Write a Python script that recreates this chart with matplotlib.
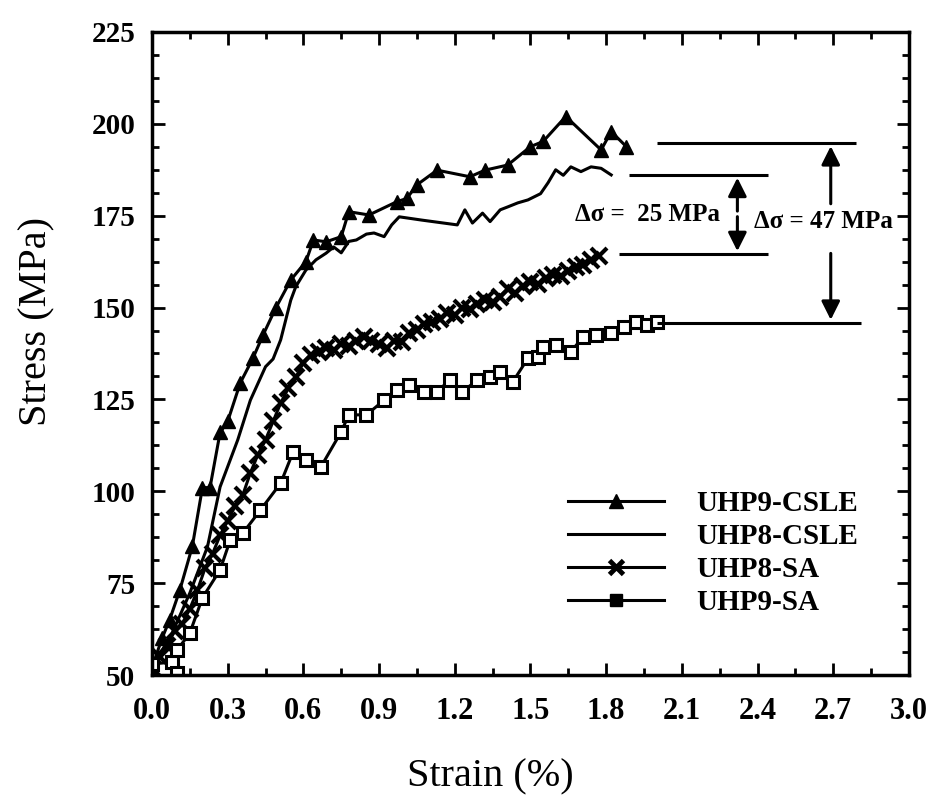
import matplotlib
matplotlib.use('Agg')
import matplotlib.pyplot as plt
from matplotlib.lines import Line2D
from matplotlib.ticker import MultipleLocator

plt.rcParams['font.family'] = ['Liberation Serif', 'DejaVu Serif']

# UHP9-CSLE (filled triangles)
uhp9_csle_x = [0.0, 0.04, 0.07, 0.11, 0.16, 0.20, 0.23, 0.27, 0.30, 0.35, 0.40, 0.44,
               0.49, 0.55, 0.61, 0.64, 0.69, 0.75, 0.78, 0.86, 0.97, 1.01, 1.05, 1.13,
               1.26, 1.32, 1.41, 1.50, 1.55, 1.64, 1.78, 1.82, 1.88]
uhp9_csle_y = [52, 60, 65, 73, 85, 101, 101, 116, 119, 129.5, 136.2, 142.5,
               149.8, 157.5, 162.5, 168.4, 167.9, 169.3, 176.1, 175.2, 178.8, 179.7, 183.4, 187.4,
               185.6, 187.4, 188.8, 193.8, 195.2, 202, 192.9, 197.9, 193.8]

# UHP8-CSLE (plain line)
uhp8_csle_x = [0.0, 0.08, 0.15, 0.22, 0.27, 0.34, 0.39, 0.45, 0.48, 0.51, 0.55, 0.57,
               0.61, 0.65, 0.69, 0.72, 0.75, 0.78, 0.81, 0.85, 0.88, 0.92, 0.95, 0.98,
               1.07, 1.21, 1.24, 1.27, 1.31, 1.34, 1.38, 1.41, 1.45, 1.49, 1.54, 1.57,
               1.60, 1.63, 1.66, 1.70, 1.74, 1.78, 1.82]
uhp8_csle_y = [52, 61.4, 72.3, 84.9, 101.2, 114, 124.8, 133.9, 136, 141.2, 152, 155.7,
               160.2, 163, 164.8, 166.5, 164.9, 168, 168.4, 170, 170.3, 169.3, 172.5, 174.7,
               173.8, 172.5, 176.6, 173, 175.7, 173.4, 176.6, 177.4, 178.5, 179.3, 181, 184,
               187.5, 186, 188.3, 187, 188.3, 187.9, 186.1]

# UHP8-SA (crosses)
uhp8_sa_x = [0.00, 0.03, 0.06, 0.09, 0.12, 0.15, 0.18, 0.21, 0.24, 0.27, 0.30, 0.33,
             0.36, 0.39, 0.42, 0.45, 0.48, 0.51, 0.54, 0.57, 0.60, 0.63, 0.66, 0.69,
             0.72, 0.75, 0.78, 0.81, 0.84, 0.87, 0.90, 0.93, 0.96, 0.99, 1.02, 1.05,
             1.08, 1.11, 1.14, 1.17, 1.20, 1.23, 1.26, 1.29, 1.32, 1.35, 1.38, 1.41,
             1.44, 1.47, 1.50, 1.53, 1.56, 1.59, 1.62, 1.65, 1.68, 1.71, 1.74, 1.77]
uhp8_sa_y = [52, 55, 58, 62, 64, 68, 73, 79, 83, 88, 92, 96,
             99, 105, 110, 114, 119, 124, 128, 131, 135, 137, 138, 139,
             138.5, 140, 139.5, 141, 142, 141, 140, 139, 141, 140.5, 143, 144,
             145.5, 146, 147, 148.5, 148, 150, 149.5, 151, 152, 151.5, 153, 155,
             154, 156, 157, 156.5, 158, 159, 158.5, 160, 161, 161.5, 163, 164]

# UHP9-SA (open squares)
uhp9_sa_x = [0.0, 0.08, 0.10, 0.10, 0.15, 0.20, 0.27, 0.31, 0.36, 0.43, 0.51, 0.56,
             0.61, 0.67, 0.75, 0.78, 0.85, 0.92, 0.97, 1.02, 1.08, 1.13, 1.18, 1.23,
             1.29, 1.34, 1.38, 1.43, 1.49, 1.53, 1.55, 1.60, 1.66, 1.71, 1.76, 1.82,
             1.87, 1.92, 1.96, 2.00]
uhp9_sa_y = [53, 53.5, 50.5, 56.8, 61.4, 71, 78.6, 86.7, 88.6, 94.9, 102.2, 110.8,
             108.5, 106.7, 116.2, 120.8, 120.8, 124.8, 127.6, 128.9, 127.1, 127.1, 130.3, 127.1,
             130.3, 131.2, 132.5, 129.8, 136.2, 136.6, 139.4, 139.8, 138, 142.1, 142.5, 143,
             144.8, 146.2, 145.3, 146.2]

# reference lines for the stress gaps
ref_levels = [194.7, 186.1, 164.6, 145.9]
ref_start = [2.0, 1.89, 1.85, 2.0]
ref_end = [2.79, 2.44, 2.44, 2.81]

labels = ['UHP9-CSLE', 'UHP8-CSLE', 'UHP8-SA', 'UHP9-SA']

fig = plt.figure(figsize=(9.34, 8.0), dpi=100)
ax = fig.add_axes([0.1627, 0.15625, 0.8105, 0.80375])

lw = 2.2
ax.plot(uhp9_csle_x, uhp9_csle_y, color='black', lw=lw, marker='^', ms=10)
ax.plot(uhp8_csle_x, uhp8_csle_y, color='black', lw=lw)
ax.plot(uhp8_sa_x, uhp8_sa_y, color='black', lw=lw, marker='x', ms=11, mew=3)
ax.plot(uhp9_sa_x, uhp9_sa_y, color='black', lw=lw, marker='s', ms=9,
        mfc='white', mec='black', mew=2.2)

ax.hlines(ref_levels, ref_start, ref_end, colors='black', lw=2.2)

arrow = dict(arrowstyle='-|>', color='black', lw=2.2, mutation_scale=28)
ax.annotate('', xy=(2.32, 186.1), xytext=(2.32, 175.5), arrowprops=arrow)
ax.annotate('', xy=(2.32, 164.6), xytext=(2.32, 175.5), arrowprops=arrow)
ax.annotate('', xy=(2.69, 194.7), xytext=(2.69, 177.5), arrowprops=arrow)
ax.annotate('', xy=(2.69, 145.9), xytext=(2.69, 165.5), arrowprops=arrow)

ax.text(2.25, 175.2, 'Δσ =  25 MPa', ha='right', va='center', fontsize=18, fontweight='bold')
ax.text(2.66, 173.4, 'Δσ = 47 MPa', ha='center', va='center', fontsize=18, fontweight='bold')

handles = [
    Line2D([], [], color='black', lw=lw, marker='^', ms=10),
    Line2D([], [], color='black', lw=lw),
    Line2D([], [], color='black', lw=lw, marker='x', ms=10, mew=3.5),
    Line2D([], [], color='black', lw=lw, marker='s', ms=9),
]
ax.legend(handles, labels, loc='upper left', bbox_to_anchor=(0.53, 0.31),
          frameon=False, prop={'family': 'Liberation Serif', 'weight': 'bold', 'size': 21},
          handlelength=3.3, handletextpad=1.1, labelspacing=0.2, borderpad=0)

ax.set_xlim(0, 3.0)
ax.set_ylim(50, 225)
ax.xaxis.set_major_locator(MultipleLocator(0.3))
ax.xaxis.set_minor_locator(MultipleLocator(0.15))
ax.yaxis.set_major_locator(MultipleLocator(25))
ax.yaxis.set_minor_locator(MultipleLocator(6.25))
ax.xaxis.set_major_formatter(plt.FuncFormatter(lambda v, p: f'{v:.1f}'))

ax.tick_params(which='both', direction='in', top=True, right=True, width=2)
ax.tick_params(which='major', length=9)
ax.tick_params(which='minor', length=5)
ax.tick_params(axis='x', pad=16, labelsize=22)
ax.tick_params(axis='y', pad=12, labelsize=21)
for t in ax.get_xticklabels() + ax.get_yticklabels():
    t.set_fontweight('bold')
for s in ax.spines.values():
    s.set_linewidth(2.5)

ax.set_xlabel('Strain (%)', fontsize=29)
ax.set_ylabel('Stress (MPa)', fontsize=29)
ax.xaxis.set_label_coords(0.447, -0.13)
ax.yaxis.set_label_coords(-0.128, 0.55)

fig.savefig('out.png', dpi=100)
